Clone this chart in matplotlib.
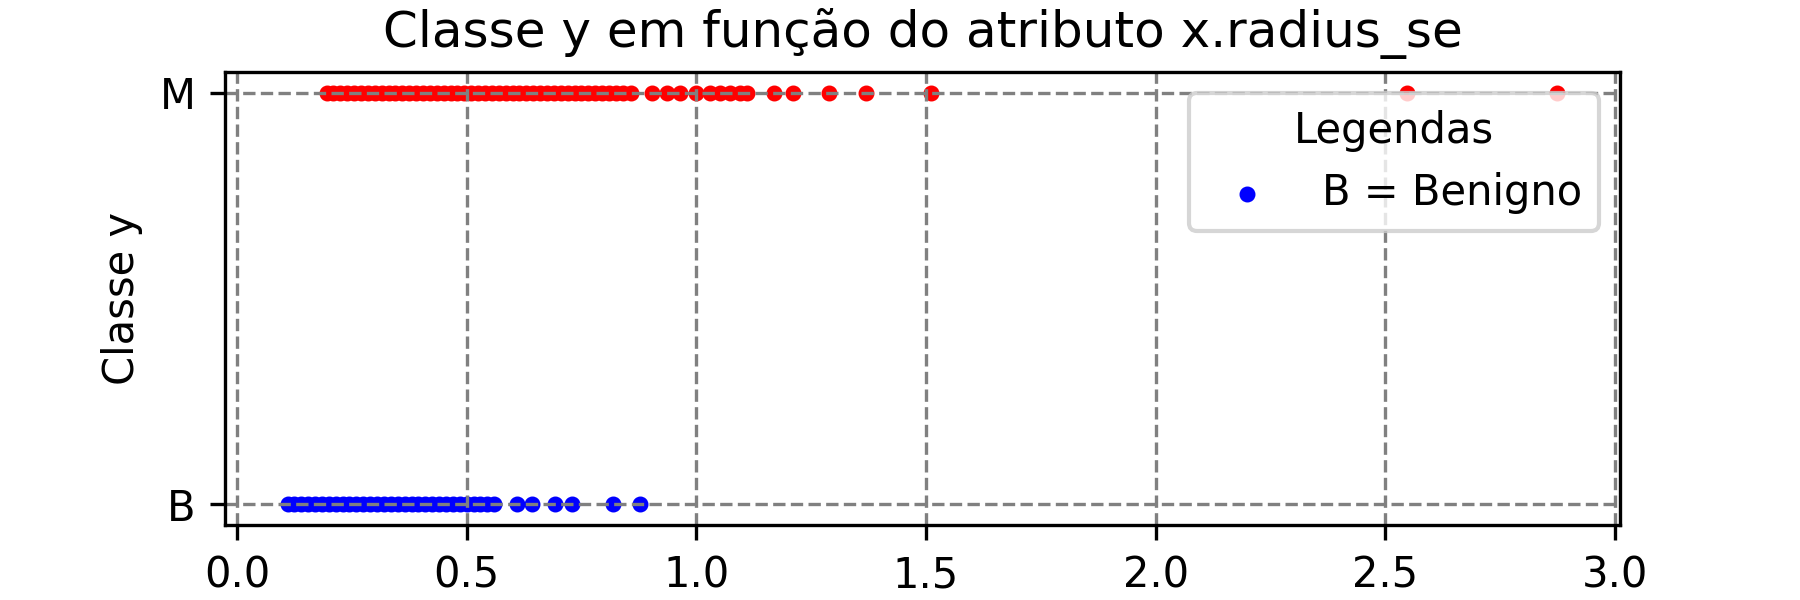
import matplotlib
matplotlib.use("Agg")
import matplotlib.pyplot as plt

# radius_se values, per class
benigno_x = [
    0.112, 0.125, 0.14, 0.155, 0.17, 0.185, 0.20, 0.215, 0.23, 0.245,
    0.26, 0.275, 0.29, 0.305, 0.32, 0.335, 0.35, 0.365, 0.38, 0.395,
    0.41, 0.425, 0.44, 0.455, 0.47, 0.485, 0.50, 0.515, 0.53, 0.545,
    0.56, 0.609, 0.642, 0.692, 0.729, 0.819, 0.877,
]
maligno_x = [
    0.195, 0.21, 0.225, 0.24, 0.255, 0.27, 0.285, 0.30, 0.315, 0.33,
    0.345, 0.36, 0.375, 0.39, 0.405, 0.42, 0.435, 0.45, 0.465, 0.48,
    0.495, 0.51, 0.525, 0.54, 0.555, 0.57, 0.585, 0.60, 0.615, 0.63,
    0.645, 0.66, 0.675, 0.69, 0.705, 0.72, 0.735, 0.75, 0.765, 0.78,
    0.795, 0.81, 0.825, 0.84, 0.858, 0.903, 0.936, 0.965, 1.0, 1.03,
    1.052, 1.073, 1.095, 1.11, 1.17, 1.21, 1.29, 1.37, 1.51, 2.548,
    2.873,
]
classes = ["B", "M"]

fig, ax = plt.subplots(figsize=(6, 2), dpi=300)
fig.subplots_adjust(bottom=0.125)
ax.scatter(benigno_x, [classes[0]] * len(benigno_x), c="blue", s=8,
           label="B = Benigno")
ax.scatter(maligno_x, [classes[1]] * len(maligno_x), c="red", s=8,
           label="_nolegend_")

ax.set_title("Classe y em função do atributo x.radius_se")
ax.set_ylabel("Classe y")
ax.grid(True, color="gray", linestyle="--")
ax.legend(title="Legendas", loc="upper right")

fig.savefig("out.png", dpi=300)
